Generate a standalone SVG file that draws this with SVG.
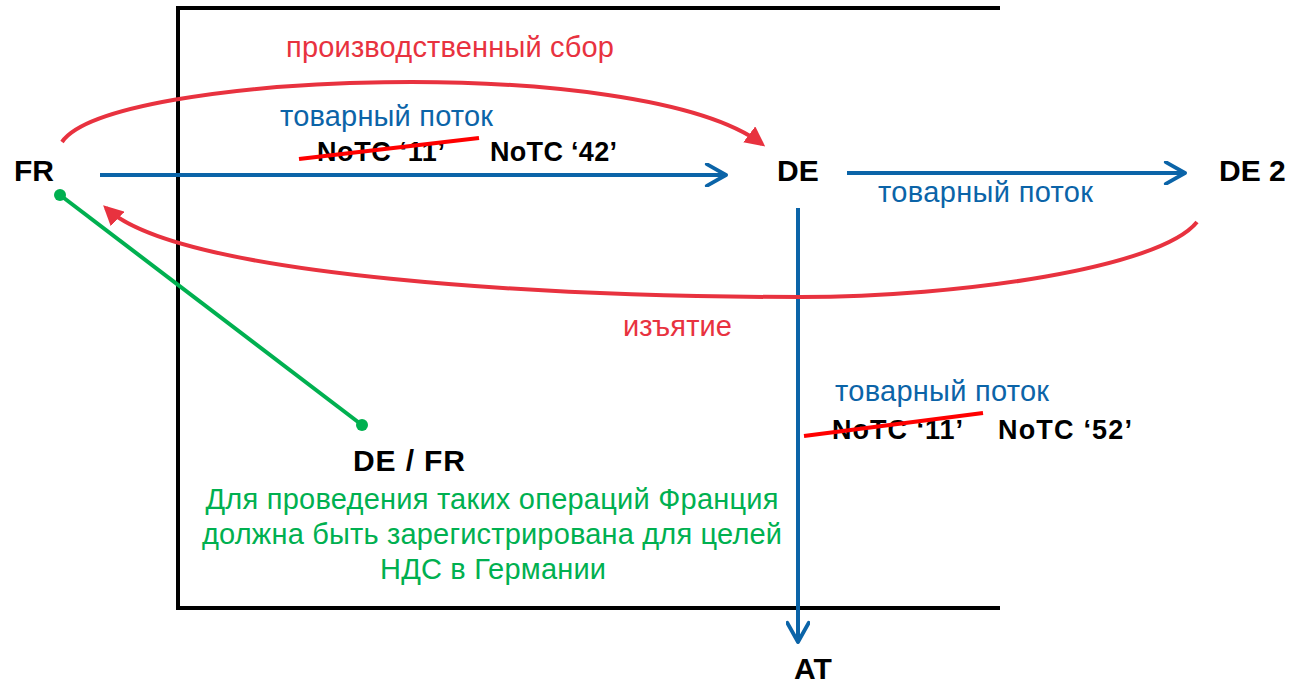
<svg xmlns="http://www.w3.org/2000/svg" width="1295" height="684" viewBox="0 0 1295 684">
<style>
.lbl{font-family:"Liberation Sans",Arial,sans-serif;font-weight:bold;font-size:30px;fill:#000}
.code{font-family:"Liberation Sans",Arial,sans-serif;font-weight:bold;font-size:27px;fill:#000}
.blue{font-family:"Liberation Sans",Arial,sans-serif;font-size:29px;fill:#0B64A8}
.red{font-family:"Liberation Sans",Arial,sans-serif;font-size:29px;fill:#E8323F}
.green{font-family:"Liberation Sans",Arial,sans-serif;font-size:29px;fill:#00B050}
.flow{stroke:#0B64A8;stroke-width:4;fill:none;marker-end:url(#chev)}
.redc{stroke:#E8323F;stroke-width:4;fill:none;marker-end:url(#tri)}
.strike{stroke:#FF0000;stroke-width:4}
</style>
<defs>
<marker id="chev" viewBox="0 0 10 10" refX="9" refY="5" markerWidth="6" markerHeight="6" orient="auto" markerUnits="strokeWidth">
<path d="M1,0.5 L9,5 L1,9.5" fill="none" stroke="#0B64A8" stroke-width="1.6" stroke-linecap="round" stroke-linejoin="round"/>
</marker>
<marker id="tri" viewBox="0 0 10 10" refX="8" refY="5" markerWidth="5" markerHeight="5" orient="auto" markerUnits="strokeWidth">
<path d="M0,0 L10,5 L0,10 Z" fill="#E8323F"/>
</marker>
<marker id="dot" viewBox="0 0 10 10" refX="5" refY="5" markerWidth="3" markerHeight="3" markerUnits="strokeWidth">
<circle cx="5" cy="5" r="5" fill="#00B050"/>
</marker>
</defs>
<g id="frame">
<path d="M1000,8 H178 V608 H1000" fill="none" stroke="#000" stroke-width="4"/>
</g>
<g id="connectors">
<path class="flow" d="M100,175 H726"/>
<path class="flow" d="M847,173 H1185"/>
<path class="flow" d="M798,208 V642"/>
<path class="redc" d="M62,142 C110,72 640,52 762,144"/>
<path class="redc" d="M1197,222 C1160,268 960,297 800,297 C560,297 180,278 106,208"/>
<line x1="60" y1="195" x2="362" y2="425" stroke="#00B050" stroke-width="4" marker-start="url(#dot)" marker-end="url(#dot)"/>
</g>
<g id="node-fr"><text class="lbl" x="14" y="181">FR</text></g>
<g id="node-de"><text class="lbl" x="777" y="181">DE</text></g>
<g id="node-de2"><text class="lbl" x="1219" y="181">DE 2</text></g>
<g id="node-at"><text class="lbl" x="794" y="679">AT</text></g>
<g id="node-defr"><text class="lbl" x="353" y="471" textLength="112">DE / FR</text></g>
<g id="labels">
<text class="red" x="286" y="57" textLength="328">производственный сбор</text>
<text class="blue" x="280" y="126" textLength="213">товарный поток</text>
<text class="code" x="317" y="161" textLength="128">NoTC ‘11’</text>
<text class="code" x="490" y="161" textLength="127">NoTC ‘42’</text>
<line class="strike" x1="299" y1="159" x2="479" y2="138"/>
<text class="blue" x="878" y="202" textLength="215">товарный поток</text>
<text class="red" x="623" y="336" textLength="109">изъятие</text>
<text class="blue" x="835" y="401" textLength="214">товарный поток</text>
<text class="code" x="832" y="439" textLength="131">NoTC ‘11’</text>
<text class="code" x="998" y="439" textLength="134">NoTC ‘52’</text>
<line class="strike" x1="804" y1="436" x2="983" y2="413"/>
<text class="green" text-anchor="middle" x="492" y="509" textLength="573">Для проведения таких операций Франция</text>
<text class="green" text-anchor="middle" x="492" y="544" textLength="580">должна быть зарегистрирована для целей</text>
<text class="green" text-anchor="middle" x="493" y="579" textLength="226">НДС в Германии</text>
</g>
</svg>
